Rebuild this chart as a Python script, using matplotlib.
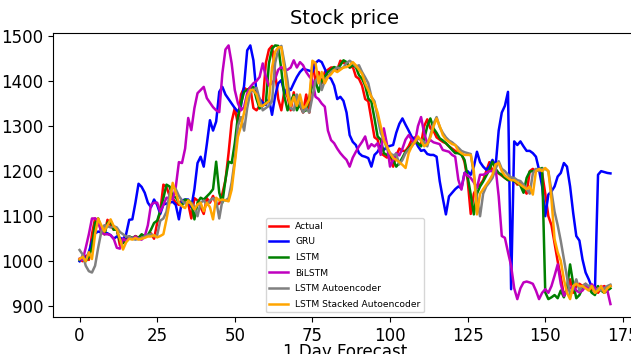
import numpy as np
import matplotlib
matplotlib.use("Agg")
import matplotlib.pyplot as plt

# values, one per forecast day (0..171)
actual = [
    1005, 1000, 1012, 1003, 1060, 1095, 1090, 1065, 1060, 1092,
    1080, 1070, 1072, 1035, 1042, 1050, 1055, 1050, 1056, 1052,
    1058, 1055, 1058, 1062, 1050, 1085, 1110, 1170, 1165, 1145,
    1140, 1130, 1125, 1135, 1130, 1128, 1095, 1140, 1135, 1120,
    1105, 1140, 1130, 1145, 1125, 1128, 1150, 1180, 1240, 1310,
    1340, 1305, 1370, 1385, 1380, 1385, 1340, 1335, 1345, 1350,
    1440, 1470, 1478, 1420, 1360, 1335, 1380, 1365, 1335, 1375,
    1340, 1345, 1330, 1370, 1330, 1440, 1400, 1420, 1395, 1420,
    1425, 1430, 1430, 1425, 1445, 1440, 1440, 1430, 1432, 1410,
    1405, 1390, 1360, 1355, 1315, 1275, 1270, 1240, 1235, 1230,
    1240, 1210, 1235, 1250, 1245, 1245, 1255, 1270, 1275, 1260,
    1260, 1300, 1315, 1295, 1290, 1275, 1270, 1265, 1262, 1255,
    1250, 1245, 1240, 1240, 1220, 1180, 1105, 1150, 1165, 1170,
    1180, 1200, 1220, 1200, 1200, 1195, 1190, 1185, 1180, 1185,
    1180, 1170, 1175, 1160, 1150, 1200, 1205, 1200, 1205, 1195,
    1150, 1100, 1080, 1040, 1000, 965, 925, 935, 960, 930,
    945, 950, 945, 950, 940, 935, 945, 930, 940, 945, 940, 945,
]
gru = [
    1000, 1012, 1005, 1020, 1045, 1062, 1066, 1064, 1064, 1062,
    1058, 1050, 1055, 1052, 1049, 1060, 1092, 1093, 1130, 1172,
    1165, 1152, 1130, 1120, 1137, 1125, 1105, 1126, 1128, 1130,
    1132, 1125, 1093, 1135, 1137, 1137, 1120, 1160, 1218, 1232,
    1210, 1260, 1313, 1290, 1310, 1376, 1387, 1370, 1360, 1350,
    1340, 1332, 1345, 1390, 1468, 1479, 1446, 1373, 1360, 1352,
    1347, 1360, 1325, 1367, 1395, 1402, 1373, 1385, 1380, 1395,
    1409, 1420, 1427, 1425, 1423, 1420, 1440, 1446, 1442, 1427,
    1410, 1405, 1390, 1360, 1365, 1356, 1330, 1280, 1265, 1258,
    1240, 1234, 1232, 1229, 1210, 1236, 1243, 1256, 1247, 1254,
    1256, 1258, 1285, 1305, 1317, 1303, 1290, 1276, 1270, 1255,
    1245, 1247, 1238, 1236, 1236, 1232, 1178, 1140, 1104, 1144,
    1152, 1160, 1166, 1162, 1196, 1200, 1192, 1210, 1243, 1220,
    1210, 1203, 1210, 1225, 1210, 1290, 1330, 1345, 1376, 938,
    1266, 1258, 1266, 1255, 1245, 1245, 1240, 1232, 1203, 1166,
    1100, 1148, 1155, 1166, 1188, 1196, 1218, 1210, 1166, 1107,
    1056, 1046, 1004, 975, 960, 942, 935, 1192, 1200, 1198, 1196, 1195,
]
lstm = [
    1003, 1005, 1000, 1010, 1030, 1085, 1095, 1070, 1060, 1085,
    1090, 1070, 1070, 1045, 1040, 1048, 1055, 1052, 1055, 1052,
    1060, 1055, 1058, 1070, 1085, 1090, 1112, 1140, 1170, 1166,
    1144, 1142, 1130, 1124, 1137, 1135, 1130, 1093, 1130, 1141,
    1137, 1144, 1151, 1160, 1221, 1152, 1130, 1181, 1221, 1218,
    1262, 1321, 1350, 1376, 1380, 1385, 1387, 1360, 1339, 1345,
    1350, 1439, 1472, 1479, 1478, 1424, 1365, 1335, 1355, 1369,
    1335, 1350, 1332, 1335, 1365, 1391, 1400, 1376, 1400, 1410,
    1420, 1425, 1431, 1428, 1435, 1446, 1442, 1430, 1435, 1431,
    1413, 1405, 1390, 1361, 1354, 1317, 1277, 1270, 1240, 1236,
    1236, 1225, 1210, 1218, 1230, 1243, 1250, 1258, 1266, 1262,
    1255, 1270, 1300, 1317, 1295, 1285, 1273, 1268, 1262, 1255,
    1247, 1240, 1240, 1236, 1225, 1188, 1148, 1104, 1150, 1166,
    1177, 1190, 1203, 1221, 1205, 1196, 1192, 1185, 1180, 1182,
    1178, 1174, 1168, 1152, 1185, 1199, 1200, 1201, 1204, 1207,
    931, 916, 920, 925, 918, 935, 920, 940, 993, 950,
    918, 925, 940, 945, 940, 930, 925, 945, 935, 930, 935, 940,
]
bilstm = [
    1005, 1003, 1030, 1060, 1095, 1095, 1090, 1065, 1060, 1060,
    1058, 1050, 1030, 1028, 1050, 1045, 1052, 1050, 1055, 1050,
    1048, 1055, 1080, 1125, 1130, 1130, 1110, 1125, 1141, 1140,
    1137, 1165, 1220, 1218, 1250, 1318, 1291, 1340, 1373, 1380,
    1387, 1362, 1352, 1342, 1335, 1331, 1417, 1470, 1479, 1439,
    1380, 1351, 1335, 1342, 1373, 1387, 1395, 1400, 1409, 1439,
    1410, 1390, 1395, 1405, 1425, 1431, 1425, 1425, 1430, 1446,
    1430, 1442, 1435, 1420, 1410, 1402, 1365, 1360, 1350, 1343,
    1290, 1269, 1262, 1250, 1240, 1232, 1225, 1210, 1230, 1243,
    1255, 1265, 1277, 1250, 1260, 1255, 1262, 1236, 1295, 1260,
    1210, 1225, 1240, 1235, 1250, 1270, 1280, 1270, 1262, 1300,
    1320, 1284, 1262, 1269, 1264, 1262, 1260, 1247, 1245, 1243,
    1236, 1232, 1181, 1159, 1196, 1190, 1185, 1175, 1163, 1192,
    1192, 1195, 1200, 1200, 1207, 1144, 1056, 1052, 1020, 990,
    940, 916, 940, 953, 955, 953, 950, 935, 916, 930,
    938, 930, 945, 968, 993, 950, 923, 935, 940, 945,
    935, 931, 935, 945, 940, 949, 940, 935, 945, 940, 935, 905,
]
lstm_ae = [
    1025, 1015, 990, 978, 975, 990, 1030, 1065, 1080, 1078,
    1075, 1078, 1075, 1065, 1060, 1055, 1055, 1050, 1048, 1050,
    1052, 1055, 1058, 1060, 1055, 1058, 1090, 1095, 1110, 1150,
    1165, 1160, 1145, 1135, 1128, 1130, 1130, 1120, 1100, 1130,
    1135, 1125, 1135, 1140, 1135, 1095, 1135, 1135, 1140, 1175,
    1225, 1300, 1320, 1290, 1340, 1375, 1380, 1385, 1360, 1335,
    1340, 1345, 1355, 1440, 1470, 1478, 1440, 1400, 1340, 1335,
    1370, 1350, 1330, 1340, 1330, 1365, 1400, 1410, 1380, 1400,
    1410, 1420, 1425, 1430, 1428, 1430, 1440, 1445, 1440, 1432,
    1435, 1420, 1408, 1395, 1365, 1355, 1320, 1285, 1270, 1250,
    1240, 1235, 1238, 1215, 1225, 1240, 1248, 1255, 1265, 1272,
    1270, 1265, 1255, 1280, 1305, 1320, 1298, 1285, 1275, 1268,
    1264, 1258, 1252, 1245, 1242, 1240, 1238, 1192, 1140, 1100,
    1150, 1166, 1175, 1185, 1205, 1222, 1205, 1200, 1192, 1186,
    1185, 1180, 1178, 1170, 1160, 1150, 1195, 1205, 1200, 1205,
    1205, 1200, 1155, 1110, 1080, 1045, 1005, 965, 925, 940,
    960, 935, 945, 950, 945, 945, 930, 940, 935, 940, 945, 948,
]
lstm_stacked_ae = [
    1005, 1010, 1000, 1020, 1005, 1060, 1095, 1080, 1066, 1080,
    1093, 1078, 1070, 1050, 1026, 1042, 1050, 1048, 1052, 1048,
    1050, 1052, 1055, 1055, 1058, 1053, 1056, 1060, 1093, 1130,
    1174, 1152, 1130, 1122, 1118, 1135, 1126, 1115, 1126, 1130,
    1111, 1130, 1120, 1093, 1141, 1135, 1137, 1135, 1133, 1159,
    1218, 1276, 1300, 1330, 1365, 1380, 1380, 1370, 1345, 1345,
    1350, 1355, 1430, 1465, 1475, 1475, 1425, 1370, 1345, 1365,
    1345, 1370, 1340, 1345, 1360, 1445, 1440, 1395, 1420, 1395,
    1409, 1415, 1424, 1420, 1425, 1430, 1431, 1435, 1442, 1435,
    1425, 1416, 1395, 1380, 1365, 1350, 1330, 1299, 1269, 1255,
    1240, 1229, 1225, 1220, 1214, 1207, 1240, 1255, 1265, 1277,
    1268, 1255, 1260, 1275, 1299, 1317, 1300, 1280, 1270, 1265,
    1260, 1258, 1245, 1240, 1236, 1236, 1236, 1200, 1104, 1150,
    1160, 1170, 1180, 1192, 1215, 1218, 1200, 1190, 1185, 1180,
    1180, 1175, 1170, 1165, 1160, 1166, 1148, 1200, 1205, 1200,
    1207, 1200, 1137, 1049, 1020, 1001, 960, 930, 916, 945,
    950, 945, 945, 940, 935, 945, 930, 935, 945, 930, 940, 945,
]

series = [("Actual", actual, "r"), ("GRU", gru, "b"), ("LSTM", lstm, "g"),
          ("BiLSTM", bilstm, "m"), ("LSTM Autoencoder", lstm_ae, "grey"),
          ("LSTM Stacked Autoencoder", lstm_stacked_ae, "orange")]

plt.rcParams["font.size"] = 12
fig = plt.figure(figsize=(6.31, 3.54), dpi=100)
# axes runs a little past the right edge, as in the cropped reference
ax = fig.add_axes([53 / 631, 1 - 317 / 354, 584 / 631, 284.5 / 354])
for lab, ys, c in series:
    ax.plot(np.arange(len(ys)), ys, color=c, lw=1.8, label=lab)
ax.set_title("Stock price", fontsize=14)
ax.set_xlabel("1 Day Forecast", labelpad=-1)
ax.legend(loc="lower center", fontsize=6.6, labelspacing=0.72)
fig.savefig("out.png", dpi=100)
